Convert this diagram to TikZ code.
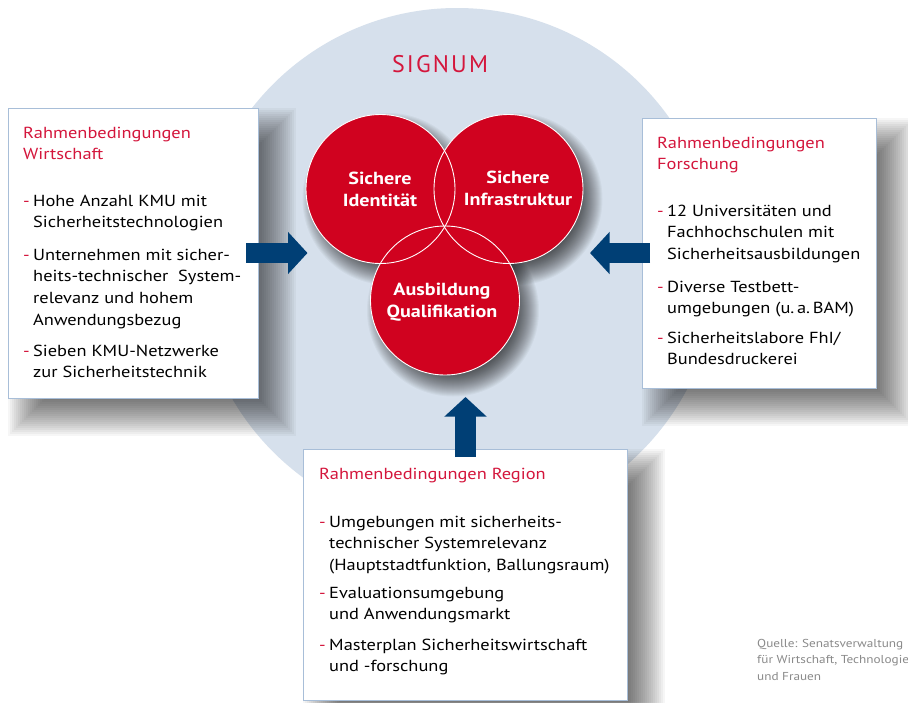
\documentclass[tikz,border=0pt]{standalone}
\usepackage{fontspec}
\setmainfont{PT Sans}[FakeStretch=1.15]
\newfontfamily\ptsans{PT Sans}
\usetikzlibrary{arrows.meta}
\definecolor{bgblue}{HTML}{D6E0EC}
\definecolor{circred}{HTML}{D0021F}
\definecolor{titlered}{HTML}{D4163C}
\definecolor{arrowblue}{HTML}{003F75}
\definecolor{boxline}{HTML}{A8BED8}
\definecolor{srcgray}{HTML}{8A8A8A}
\newcommand\boxshadow[4]{%
  \foreach \i in {0,2,...,38}{\fill[black,opacity=0.034] ({#1+\i},{#2+\i}) rectangle ({#3+38-\i},{#4+38-\i});}}
\newcommand\circshadow[1]{%
  \foreach \i in {0,...,24}{\fill[black,opacity=0.036] ([shift={(8,10)}]#1) circle[radius={86-\i}];}}
\tikzset{
  infobox/.style={rectangle, draw=boxline, line width=0.8pt, fill=white, inner sep=0, anchor=north west},
  redcirc/.style={circle, fill=circred, inner sep=0, minimum size=149pt},
  circline/.style={draw=white, line width=0.9pt},
  body/.style={font=\fontsize{16}{21.7}\selectfont, align=left, inner sep=0, anchor=north west},
  ttl/.style={body, text=titlered},
  dashmark/.style={font=\fontsize{16}{21.7}\selectfont, text=titlered, inner sep=0, anchor=base west},
  circtext/.style={font=\bfseries\fontsize{17.5}{22}\selectfont, text=white, align=center, inner sep=0, anchor=north},
  blockarrow/.style={draw=arrowblue, line width=20.5pt, line cap=butt, -{Triangle[width=41pt,length=19.5pt]}},
  srctext/.style={font=\fontsize{11.5}{16.5}\selectfont, text=srcgray, align=left, inner sep=0, anchor=north west}
}
\begin{document}
\begin{tikzpicture}[x=1pt,y=-1pt]
\useasboundingbox (0,0) rectangle (908,702);
\fill[white] (0,0) rectangle (908,702);

% background circle
\node[circle, fill=bgblue, inner sep=0, minimum size=520pt] (signumbg) at (457,268) {};
\node[font=\ptsans\fontsize{24}{28}\selectfont\addfontfeatures{LetterSpace=9}, text=titlered, inner sep=0, anchor=base] (signum) at (440,72) {SIGNUM};

% red circles
\coordinate (pid) at (380.5,189);
\coordinate (pinf) at (508.5,189);
\coordinate (pqual) at (445,300.5);
\circshadow{pid}
\circshadow{pinf}
\circshadow{pqual}
\node[redcirc] (cid) at (pid) {};
\node[redcirc] (cinf) at (pinf) {};
\node[redcirc] (cqual) at (pqual) {};
\draw[circline] (cid.center) circle[radius=74.5];
\draw[circline] (cinf.center) circle[radius=74.5];
\draw[circline] (cqual.center) circle[radius=74.5];
\node[circtext] (tid) at (380,168.6) {\strut Sichere\\Identität};
\node[circtext] (tinf) at (518,167.6) {\strut Sichere\\Infrastruktur};
\node[circtext] (tqual) at (442,279.6) {\strut Ausbildung\\Qualifikation};

% boxes
\boxshadow{8}{108}{258}{398}
\boxshadow{642}{118}{876}{388}
\boxshadow{303}{449}{627}{700}
\node[infobox, minimum width=250pt, minimum height=290pt] (wbox) at (8,108) {};
\node[infobox, minimum width=234pt, minimum height=270pt] (fbox) at (642,118) {};
\node[infobox, minimum width=324pt, minimum height=251pt] (rbox) at (303,449) {};

% left box text
\node[ttl] (wtitle) at (23,122.8) {\strut Rahmenbedingungen\\Wirtschaft};
\node[dashmark] (wd1) at (23,206) {-};
\node[body] (wi1) at (33,190.8) {\strut Hohe Anzahl KMU mit\\Sicherheitstechnologien};
\node[dashmark] (wd2) at (23,260) {-};
\node[body] (wi2) at (33,244.8) {\strut Unternehmen mit sicher-\\heits-technischer\ \ System-\\relevanz und hohem\\Anwendungsbezug};
\node[dashmark] (wd3) at (23,356) {-};
\node[body] (wi3) at (33,340.8) {\strut Sieben KMU-Netzwerke\\zur Sicherheitstechnik};

% right box text
\node[ttl] (ftitle) at (657,132.8) {\strut Rahmenbedingungen\\Forschung};
\node[dashmark] (fd1) at (657,216) {-};
\node[body] (fi1) at (667,200.8) {\strut 12 Universitäten und\\Fachhochschulen mit\\Sicherheitsausbildungen};
\node[dashmark] (fd2) at (657,292) {-};
\node[body] (fi2) at (667,276.8) {\strut Diverse Testbett-\\umgebungen (u.\,a.\,BAM)};
\node[dashmark] (fd3) at (657,343) {-};
\node[body] (fi3) at (667,327.8) {\strut Sicherheitslabore FhI/\\Bundesdruckerei};

% bottom box text
\node[ttl] (rtitle) at (319,463.8) {\strut Rahmenbedingungen Region};
\node[dashmark] (rd1) at (319,527) {-};
\node[body] (ri1) at (329,511.8) {\strut Umgebungen mit sicherheits-\\technischer Systemrelevanz\\(Hauptstadtfunktion, Ballungsraum)};
\node[dashmark] (rd2) at (319,598) {-};
\node[body] (ri2) at (329,582.8) {\strut Evaluationsumgebung\\und Anwendungsmarkt};
\node[dashmark] (rd3) at (319,650) {-};
\node[body] (ri3) at (329,634.8) {\strut Masterplan Sicherheitswirtschaft\\und -forschung};

% arrows
\coordinate (lstart) at (246,253);
\coordinate (ltip) at (307.5,253);
\coordinate (rstart) at (650,253);
\coordinate (rtip) at (590,253);
\coordinate (ustart) at (465.5,457);
\coordinate (utip) at (465.5,397);
\draw[blockarrow] (lstart) -- (ltip);
\draw[blockarrow] (rstart) -- (rtip);
\draw[blockarrow] (ustart) -- (utip);

% source
\node[srctext] (src) at (757,635.5) {\strut Quelle: Senatsverwaltung\\für Wirtschaft, Technologie\\und Frauen};
\end{tikzpicture}
\end{document}
